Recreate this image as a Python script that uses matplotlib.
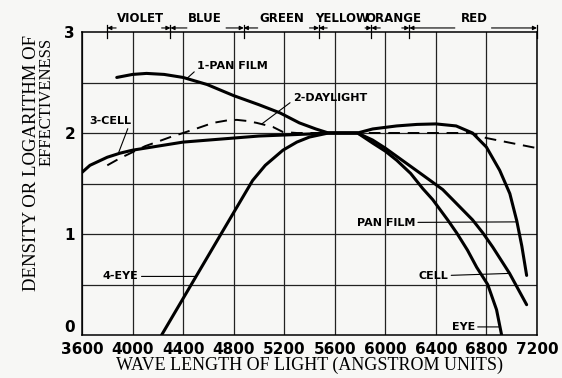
import matplotlib
matplotlib.use('Agg')
import matplotlib.pyplot as plt

# ---- data ----
pan_wl = [3875, 4000, 4110, 4250, 4400, 4590, 4800, 5000, 5165, 5320, 5450, 5550, 5780,
          5900, 6090, 6250, 6400, 6560, 6690, 6800, 6905, 6985, 7040, 7080, 7118]
pan_d = [2.55, 2.58, 2.59, 2.58, 2.55, 2.48, 2.37, 2.28, 2.20, 2.10, 2.04, 2.00, 2.00,
         2.04, 2.07, 2.085, 2.09, 2.07, 2.00, 1.86, 1.63, 1.40, 1.13, 0.88, 0.59]

cell_wl = [3600, 3663, 3800, 3900, 4000, 4200, 4400, 4600, 4800, 5000, 5200, 5400, 5550, 5780,
           5900, 6000, 6100, 6200, 6300, 6454, 6533, 6690, 6772, 6850, 6983, 7118]
cell_d = [1.61, 1.68, 1.76, 1.80, 1.83, 1.87, 1.91, 1.93, 1.95, 1.97, 1.98, 1.99, 2.00, 2.00,
          1.93, 1.85, 1.76, 1.67, 1.58, 1.44, 1.34, 1.14, 1.01, 0.87, 0.61, 0.30]

eye_wl = [4230, 4700, 4950, 5050, 5190, 5300, 5400, 5550, 5780, 5900, 6000, 6090, 6200,
          6296, 6375, 6493, 6565, 6650, 6723, 6810, 6880, 6920]
eye_d = [0.0, 1.0, 1.53, 1.68, 1.83, 1.91, 1.96, 2.00, 2.00, 1.90, 1.82, 1.73, 1.60,
         1.45, 1.34, 1.14, 1.01, 0.84, 0.67, 0.50, 0.25, 0.0]

day_wl = [3800, 3900, 4000, 4100, 4190, 4300, 4400, 4520, 4636, 4750, 4825, 4900, 4983,
          5110, 5190, 5300, 6670, 6800, 7000, 7200]
day_d = [1.68, 1.75, 1.81, 1.87, 1.91, 1.96, 2.00, 2.05, 2.10, 2.125, 2.13, 2.12, 2.10,
         2.06, 2.01, 2.00, 2.00, 1.95, 1.90, 1.85]

x_ticks = [3600, 4000, 4400, 4800, 5200, 5600, 6000, 6400, 6800, 7200]
y_ticks = [0, 1, 2, 3]

colour_names = ['VIOLET', 'BLUE', 'GREEN', 'YELLOW', 'ORANGE', 'RED']
colour_centres = [4062, 4572, 5181, 5655, 6066, 6703]
colour_bounds = [3800, 4300, 4880, 5475, 5890, 6190, 7200]
arrow_from_left = [None, 4230, 4740, 5400, 5840, 6130, 6840]
arrow_from_right = [3870, 4430, 4990, 5540, 5960, 6550, None]

bg = '#f7f7f5'
fig = plt.figure(figsize=(5.62, 3.78), dpi=100, facecolor=bg)
ax = fig.add_axes([82 / 562, 43 / 378, 455 / 562, 303 / 378], facecolor=bg)

# grid
for x in range(3600, 7201, 400):
    ax.axvline(x, color='#222222', lw=0.9, zorder=1)
for y in [0.5, 1, 1.5, 2, 2.5]:
    ax.axhline(y, color='#222222', lw=0.9, zorder=1)

# curves
ax.plot(pan_wl, pan_d, color='black', lw=2.2, solid_capstyle='round', zorder=3)
ax.plot(cell_wl, cell_d, color='black', lw=2.2, solid_capstyle='round', zorder=3)
ax.plot(eye_wl, eye_d, color='black', lw=2.2, solid_capstyle='round', zorder=3)
ax.plot(day_wl, day_d, color='black', lw=1.4, dashes=(6, 4), zorder=3)

ax.set_xlim(3600, 7200)
ax.set_ylim(0, 3)
ax.set_xticks(x_ticks)
ax.set_yticks(y_ticks)
ax.set_xticklabels([str(t) for t in x_ticks], fontsize=11, fontweight='bold')
ax.set_yticklabels([str(t) for t in y_ticks], fontsize=11, fontweight='bold')
ax.get_yticklabels()[0].set_va('bottom')
ax.tick_params(length=0, pad=5)
for s in ax.spines.values():
    s.set_linewidth(1.1)

ax.set_xlabel('WAVE LENGTH OF LIGHT (ANGSTROM UNITS)', family='Liberation Serif',
              fontsize=13, labelpad=0)
fig.text(32 / 562, 1 - 35 / 378, 'DENSITY OR LOGARITHM OF', family='Liberation Serif',
         fontsize=13.5, rotation=90, ha='center', va='top')
fig.text(47 / 562, 1 - 38 / 378, 'EFFECTIVENESS', family='Liberation Serif',
         fontsize=12, rotation=90, ha='center', va='top')

# curve labels
lab = dict(fontsize=8, fontweight='bold', va='center', zorder=4)
leader = dict(arrowstyle='-', lw=0.8, color='black', shrinkA=0, shrinkB=0)
ax.annotate('1-PAN FILM', xy=(4430, 2.54), xytext=(4510, 2.66), ha='left',
            arrowprops=dict(leader, relpos=(0, 0.2)), **lab)
ax.annotate('2-DAYLIGHT', xy=(5023, 2.09), xytext=(5268, 2.35), ha='left',
            arrowprops=dict(leader, relpos=(0, 0.2)), **lab)
ax.annotate('3-CELL', xy=(3885, 1.79), xytext=(3655, 2.12), ha='left',
            arrowprops=dict(leader, relpos=(0.95, 0)), **lab)
ax.annotate('4-EYE', xy=(4495, 0.58), xytext=(3766, 0.58), ha='left',
            arrowprops=dict(leader, relpos=(1, 0.5)), **lab)
ax.annotate('PAN FILM', xy=(7045, 1.12), xytext=(5774, 1.11), ha='left',
            arrowprops=dict(leader, relpos=(1, 0.55)), **lab)
ax.annotate('CELL', xy=(6985, 0.61), xytext=(6264, 0.58), ha='left',
            arrowprops=dict(leader, relpos=(1, 0.6)), **lab)
ax.annotate('EYE', xy=(6908, 0.08), xytext=(6525, 0.08), ha='left',
            arrowprops=dict(leader, relpos=(1, 0.5)), **lab)

# spectrum band above the plot
for name, c in zip(colour_names, colour_centres):
    ax.text(c, 3.13, name, ha='center', va='center', fontsize=8.5, fontweight='bold',
            clip_on=False)
arr = dict(arrowstyle='-|>', lw=0.8, color='black', mutation_scale=6, shrinkA=0, shrinkB=0)
for b, a_l, a_r in zip(colour_bounds, arrow_from_left, arrow_from_right):
    ax.plot([b, b], [2.94, 3.07], color='black', lw=0.9, clip_on=False)
    if a_l is not None:
        ax.annotate('', xy=(b, 3.04), xytext=(a_l, 3.04), arrowprops=arr,
                    annotation_clip=False)
    if a_r is not None:
        ax.annotate('', xy=(b, 3.04), xytext=(a_r, 3.04), arrowprops=arr,
                    annotation_clip=False)

fig.savefig('out.png', dpi=100, facecolor=bg)
